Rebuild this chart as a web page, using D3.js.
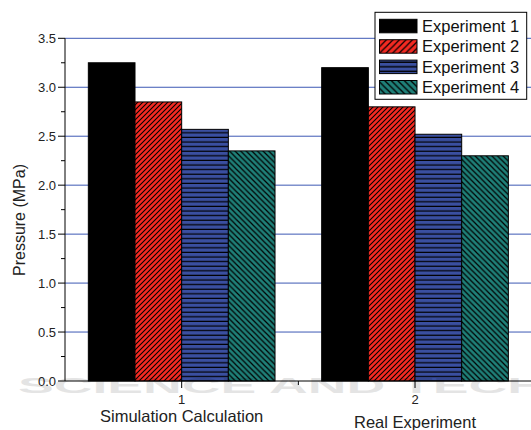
<!DOCTYPE html>
<html>
<head>
<meta charset="utf-8">
<script src="https://cdn.jsdelivr.net/npm/d3@7"></script>
<style>
  html, body { margin: 0; padding: 0; background: #fff; }
  svg { display: block; font-family: "Liberation Sans", Arial, sans-serif; }
</style>
</head>
<body>
<svg id="chart" width="531" height="430"></svg>
<script>
// Pressure readings per category and experiment
const categories = ["Simulation Calculation", "Real Experiment"];
const categoryTicks = [1, 2];
const seriesNames = ["Experiment 1", "Experiment 2", "Experiment 3", "Experiment 4"];
const experiment1 = [3.25, 3.20];
const experiment2 = [2.85, 2.80];
const experiment3 = [2.57, 2.52];
const experiment4 = [2.35, 2.30];
const yTicks = [0.0, 0.5, 1.0, 1.5, 2.0, 2.5, 3.0, 3.5];

const seriesValues = [experiment1, experiment2, experiment3, experiment4];

(function draw() {
  const svg = d3.select("#chart");
  const W = 531;
  const plotLeft = 65, plotTop = 38.3, plotBottom = 381;

  const x = d3.scaleLinear().domain([0.5, 2.5]).range([plotLeft, 531.7]);
  const y = d3.scaleLinear().domain([0, 3.5]).range([plotBottom, plotTop]);

  // Hatch patterns for the filled series
  const defs = svg.append("defs");
  function hatch(id, color, size, drawLine, width) {
    const p = defs.append("pattern").attr("id", id)
      .attr("patternUnits", "userSpaceOnUse")
      .attr("width", size).attr("height", size);
    p.append("rect").attr("width", size).attr("height", size).attr("fill", color);
    drawLine(p, size, width);
  }
  function fwd(p, s, w) { // "/" lines
    p.append("path").attr("d", `M0,${s} L${s},0 M${-s/2},${s/2} L${s/2},${-s/2} M${s/2},${s*1.5} L${s*1.5},${s/2}`)
      .attr("stroke", "#000").attr("stroke-width", w);
  }
  function back(p, s, w) { // "\" lines
    p.append("path").attr("d", `M0,0 L${s},${s} M${-s/2},${s/2} L${s/2},${s*1.5} M${s/2},${-s/2} L${s*1.5},${s/2}`)
      .attr("stroke", "#000").attr("stroke-width", w);
  }
  function horiz(p, s, w) {
    p.append("path").attr("d", `M0,${s - w/2} L${s},${s - w/2}`)
      .attr("stroke", "#000").attr("stroke-width", w);
  }
  hatch("p-red", "#f42a22", 5, fwd, 1.1);
  hatch("p-blue", "#3a4fa0", 4.6, horiz, 1.2);
  hatch("p-teal", "#1f8078", 5.6, back, 1.2);
  hatch("l-red", "#f42a22", 6.5, fwd, 1.2);
  hatch("l-blue", "#3a4fa0", 4.6, horiz, 1.4);
  hatch("l-teal", "#1f8078", 6.5, back, 1.3);

  const fills = ["#000", "url(#p-red)", "url(#p-blue)", "url(#p-teal)"];
  const legendFills = ["#000", "url(#l-red)", "url(#l-blue)", "url(#l-teal)"];

  // Horizontal grid lines at each labelled tick
  svg.append("g").selectAll("line").data(yTicks.filter(d => d > 0)).join("line")
    .attr("x1", plotLeft).attr("x2", W)
    .attr("y1", d => y(d)).attr("y2", d => y(d))
    .attr("stroke", "#3d58b4").attr("stroke-width", 1);

  // Bars
  const groupWidth = 0.8, barW = groupWidth / seriesNames.length;
  seriesValues.forEach((vals, si) => {
    svg.append("g").selectAll("rect").data(vals).join("rect")
      .attr("x", (d, i) => x(categoryTicks[i] - groupWidth / 2 + si * barW))
      .attr("width", x(barW) - x(0))
      .attr("y", d => y(d))
      .attr("height", d => y(0) - y(d))
      .attr("fill", fills[si])
      .attr("stroke", "#000").attr("stroke-width", 1);
  });

  // Y axis with minor ticks
  const yAxis = svg.append("g").attr("transform", `translate(${plotLeft},0)`);
  yAxis.append("line").attr("x1", 0).attr("x2", 0).attr("y1", plotTop).attr("y2", plotBottom).attr("stroke", "#000");
  const minor = d3.range(0, 3.5001, 0.25);
  yAxis.selectAll("line.t").data(minor).join("line").attr("class", "t")
    .attr("x1", d => (Math.round(d * 4) % 2 === 0) ? -7 : -4).attr("x2", 0)
    .attr("y1", d => y(d)).attr("y2", d => y(d)).attr("stroke", "#000");
  yAxis.selectAll("text").data(yTicks).join("text")
    .attr("x", -9).attr("y", d => y(d)).attr("dy", "0.36em")
    .attr("text-anchor", "end").attr("font-size", 13).attr("fill", "#222")
    .text(d => d.toFixed(1));

  // X axis with a minor tick between the categories
  const xAxis = svg.append("g");
  xAxis.append("line").attr("x1", plotLeft).attr("x2", W).attr("y1", plotBottom).attr("y2", plotBottom).attr("stroke", "#000");
  xAxis.selectAll("line.t").data(categoryTicks).join("line").attr("class", "t")
    .attr("x1", d => x(d)).attr("x2", d => x(d))
    .attr("y1", plotBottom).attr("y2", plotBottom + 7).attr("stroke", "#000");
  xAxis.append("line").attr("x1", x(1.5)).attr("x2", x(1.5))
    .attr("y1", plotBottom).attr("y2", plotBottom + 4).attr("stroke", "#000");
  xAxis.selectAll("text.n").data(categoryTicks).join("text").attr("class", "n")
    .attr("x", d => x(d)).attr("y", 403.5)
    .attr("text-anchor", "middle").attr("font-size", 13).attr("fill", "#222")
    .text(d => d);
  const catY = [422, 427.5];
  xAxis.selectAll("text.c").data(categories).join("text").attr("class", "c")
    .attr("x", (d, i) => x(categoryTicks[i])).attr("y", (d, i) => catY[i])
    .attr("text-anchor", "middle").attr("font-size", 16.5).attr("fill", "#222")
    .text(d => d);

  // Y axis title
  svg.append("text")
    .attr("transform", `translate(25,220) rotate(-90)`)
    .attr("text-anchor", "middle").attr("font-size", 16).attr("fill", "#222")
    .text("Pressure (MPa)");

  // Legend
  const lg = svg.append("g").attr("transform", "translate(375,12.3)");
  lg.append("rect").attr("width", 151.7).attr("height", 87)
    .attr("fill", "#fff").attr("stroke", "#000").attr("stroke-width", 1);
  seriesNames.forEach((name, i) => {
    const gy = 7 + i * 20.4;
    lg.append("rect").attr("x", 4.5).attr("y", gy).attr("width", 37.5).attr("height", 13.5)
      .attr("fill", legendFills[i]).attr("stroke", "#000").attr("stroke-width", 1);
    lg.append("text").attr("x", 47).attr("y", gy + 12.5)
      .attr("font-size", 16.5).attr("fill", "#111").text(name);
  });

  // Faint publisher line laid over the foot of the figure
  svg.append("text").attr("x", 18).attr("y", 393)
    .attr("fill", "#000").attr("opacity", 0.1)
    .attr("font-size", 22).attr("font-weight", "bold")
    .attr("textLength", 760).attr("lengthAdjust", "spacingAndGlyphs")
    .text("SCIENCE AND TECHNOLOGY");
})();
</script>
</body>
</html>
